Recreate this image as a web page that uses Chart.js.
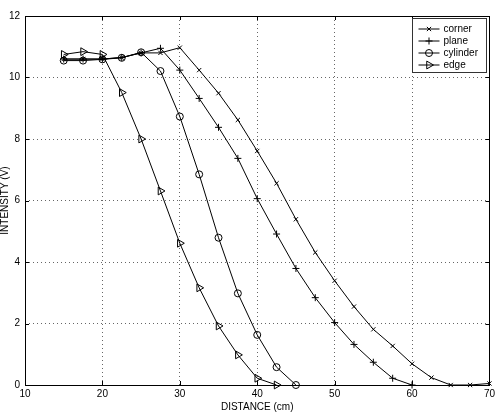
<!DOCTYPE html>
<html>
    <head>
        <title>Intensity vs distance</title>
        <script src="https://cdn.jsdelivr.net/npm/chart.js@4.4.1/dist/chart.umd.min.js"></script>
        <style>
            body { margin: 0; background: #fff; }
        </style>
    </head>
    <body>
        <canvas id="intensityChart" width="498" height="413"></canvas>
        <script>
            const distance = [15, 17.5, 20, 22.5, 25, 27.5, 30, 32.5, 35, 37.5, 40, 42.5, 45, 47.5, 50, 52.5, 55, 57.5, 60, 62.5, 65, 67.5, 70];
            const corner = [10.6, 10.6, 10.6, 10.65, 10.8, 10.8, 10.97, 10.24, 9.49, 8.62, 7.61, 6.56, 5.39, 4.31, 3.39, 2.55, 1.81, 1.27, 0.69, 0.24, 0, 0, 0.05];
            const plane = [10.6, 10.6, 10.6, 10.65, 10.8, 10.95, 10.24, 9.32, 8.38, 7.37, 6.06, 4.91, 3.79, 2.84, 2.03, 1.32, 0.74, 0.22, 0];
            const cylinder = [10.55, 10.55, 10.59, 10.64, 10.82, 10.21, 8.73, 6.85, 4.79, 2.98, 1.63, 0.58, 0];
            const edge = [10.75, 10.84, 10.75, 9.51, 8.0, 6.31, 4.61, 3.16, 1.92, 0.98, 0.22, 0];

            const xTicks = [10, 20, 30, 40, 50, 60, 70];
            const yTicks = [0, 2, 4, 6, 8, 10, 12];

            const fontFamily = "'Liberation Sans', Arial, sans-serif";

            const makeDataset = (name, values, style, radius, rotation) => {
                return {
                    label: name,
                    data: values.map((v, i) => ({ x: distance[i], y: v })),
                    borderColor: "#000",
                    borderWidth: 1,
                    pointStyle: style,
                    pointRadius: radius,
                    pointRotation: rotation,
                    pointBorderColor: "#000",
                    pointBorderWidth: 1,
                    pointBackgroundColor: "rgba(0,0,0,0)",
                    tension: 0,
                    clip: false,
                };
            };

            // box, inward tick marks and the legend, drawn on top like the matlab figure
            const framePlugin = {
                id: "frame",
                afterDatasetsDraw(chart) {
                    const ctx = chart.ctx;
                    const area = chart.chartArea;
                    const xs = chart.scales.x;
                    const ys = chart.scales.y;
                    ctx.save();
                    ctx.strokeStyle = "#000";
                    ctx.lineWidth = 1;
                    ctx.strokeRect(Math.round(area.left) + 0.5, Math.round(area.top) + 0.5,
                        Math.round(area.right - area.left), Math.round(area.bottom - area.top));

                    ctx.beginPath();
                    xTicks.forEach(t => {
                        const px = Math.round(xs.getPixelForValue(t)) + 0.5;
                        ctx.moveTo(px, area.bottom);
                        ctx.lineTo(px, area.bottom - 4);
                        ctx.moveTo(px, area.top);
                        ctx.lineTo(px, area.top + 4);
                    });
                    yTicks.forEach(t => {
                        const py = Math.round(ys.getPixelForValue(t)) + 0.5;
                        ctx.moveTo(area.left, py);
                        ctx.lineTo(area.left + 4, py);
                        ctx.moveTo(area.right, py);
                        ctx.lineTo(area.right - 4, py);
                    });
                    ctx.stroke();

                    // legend
                    const boxW = 74;
                    const boxH = 54;
                    const boxX = Math.round(area.right) - boxW - 2.5;
                    const boxY = Math.round(area.top) + 2.5;
                    ctx.fillStyle = "#fff";
                    ctx.fillRect(boxX, boxY, boxW, boxH);
                    ctx.strokeStyle = "#333";
                    ctx.strokeRect(boxX, boxY, boxW, boxH);

                    ctx.font = "10px " + fontFamily;
                    ctx.textBaseline = "middle";
                    ctx.textAlign = "left";
                    chart.data.datasets.forEach((ds, i) => {
                        const rowY = boxY + 10.5 + i * 12;
                        ctx.strokeStyle = "#000";
                        ctx.beginPath();
                        ctx.moveTo(boxX + 6, rowY);
                        ctx.lineTo(boxX + 27, rowY);
                        ctx.stroke();
                        ctx.fillStyle = "rgba(0,0,0,0)";
                        Chart.helpers.drawPoint(ctx, {
                            pointStyle: ds.pointStyle,
                            radius: ds.pointRadius,
                            rotation: ds.pointRotation,
                            borderWidth: 1,
                        }, boxX + 16.5, rowY);
                        ctx.fillStyle = "#000";
                        ctx.fillText(ds.label, boxX + 31, rowY + 0.5);
                    });
                    ctx.restore();
                }
            };

            const chart = new Chart(document.getElementById("intensityChart"), {
                type: "line",
                data: {
                    datasets: [
                        makeDataset("corner", corner, "crossRot", 3, 0),
                        makeDataset("plane", plane, "cross", 3.5, 0),
                        makeDataset("cylinder", cylinder, "circle", 3.5, 0),
                        makeDataset("edge", edge, "triangle", 4.5, 90),
                    ]
                },
                options: {
                    responsive: false,
                    animation: false,
                    devicePixelRatio: 1,
                    layout: {
                        padding: { top: 16, right: 6, bottom: 0, left: 0 }
                    },
                    plugins: {
                        legend: { display: false },
                        tooltip: { enabled: false },
                    },
                    scales: {
                        x: {
                            type: "linear",
                            min: 10,
                            max: 70,
                            afterFit: s => { s.height = 28; },
                            afterBuildTicks: s => { s.ticks = xTicks.map(v => ({ value: v })); },
                            ticks: {
                                color: "#000",
                                padding: 3,
                                maxRotation: 0,
                                font: { family: fontFamily, size: 10 },
                            },
                            grid: {
                                color: "rgba(0,0,0,0.6)",
                                tickLength: 0,
                                drawTicks: false,
                            },
                            border: { display: false, dash: [1, 3] },
                            title: {
                                display: true,
                                text: "DISTANCE (cm)",
                                color: "#000",
                                padding: { top: 1, bottom: 0 },
                                font: { family: fontFamily, size: 10 },
                            },
                        },
                        y: {
                            min: 0,
                            max: 12,
                            afterFit: s => { s.width = 25; },
                            afterBuildTicks: s => { s.ticks = yTicks.map(v => ({ value: v })); },
                            ticks: {
                                color: "#000",
                                padding: 5,
                                font: { family: fontFamily, size: 10 },
                            },
                            grid: {
                                color: "rgba(0,0,0,0.6)",
                                tickLength: 0,
                                drawTicks: false,
                            },
                            border: { display: false, dash: [1, 3] },
                            title: {
                                display: true,
                                text: "INTENSITY (V)",
                                color: "#000",
                                padding: { top: -1, bottom: 0 },
                                font: { family: fontFamily, size: 10 },
                            },
                        },
                    },
                },
                plugins: [framePlugin],
            });
        </script>
    </body>
</html>
